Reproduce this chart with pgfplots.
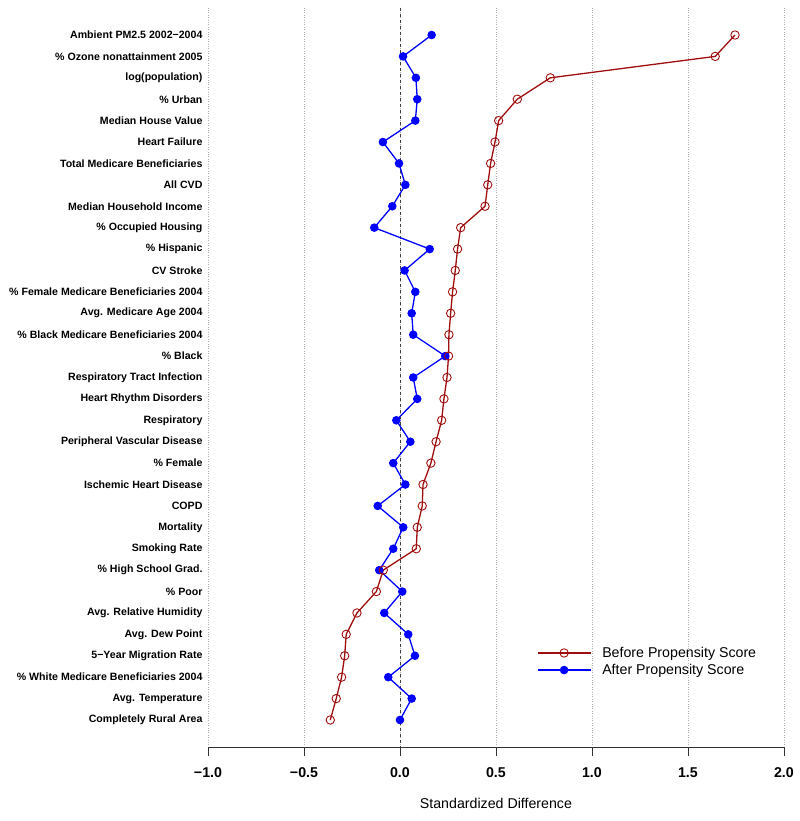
\documentclass[border=0pt]{standalone}
\usepackage{fontspec}
\setmainfont{Liberation Sans}
\usepackage{pgfplots}
\pgfplotsset{compat=1.18}
\definecolor{darkred}{RGB}{160,15,15}
\definecolor{gridgray}{RGB}{175,175,175}

\begin{document}
\begin{tikzpicture}
\begin{axis}[
  scale only axis, width=576pt, height=739.8pt,
  xmin=-1, xmax=2, ymin=-0.28, ymax=34.28, y dir=reverse,
  axis x line*=bottom, axis y line*=left,
  y axis line style={draw=none},
  x axis line style={black!80, line width=0.8pt, -},
  xtick={-1,-0.5,0,0.5,1,1.5,2},
  xticklabels={−1.0,−0.5,0.0,0.5,1.0,1.5,2.0},
  xticklabel style={font=\bfseries\fontsize{14.2}{16}\selectfont, yshift=-8pt},
  tick align=outside, major tick length=9pt,
  x tick style={black!80, line width=0.8pt},
  ytick={1,...,33}, y tick style={draw=none},
  yticklabels={Ambient PM2.5 2002−2004,\% Ozone nonattainment 2005,log(population),\% Urban,Median House Value,Heart Failure,Total Medicare Beneficiaries,All CVD,Median Household Income,\% Occupied Housing,\% Hispanic,CV Stroke,\% Female Medicare Beneficiaries 2004,Avg. Medicare Age 2004,\% Black Medicare Beneficiaries 2004,\% Black,Respiratory Tract Infection,Heart Rhythm Disorders,Respiratory,Peripheral Vascular Disease,\% Female,Ischemic Heart Disease,COPD,Mortality,Smoking Rate,\% High School Grad.,\% Poor,Avg. Relative Humidity,Avg. Dew Point,5−Year Migration Rate,\% White Medicare Beneficiaries 2004,Avg. Temperature,Completely Rural Area},
  yticklabel style={font=\bfseries\fontsize{10.6}{12}\selectfont, xshift=7pt},
  xmajorgrids, grid style={gridgray, dotted, line width=0.6pt},
  xlabel={Standardized Difference},
  xlabel style={font=\fontsize{14.2}{16}\selectfont, at={(axis description cs:0.5,-0.076)}, anchor=center},
  clip=false,
  reverse legend,
  legend style={at={(axis cs:0.7135,29.5)}, anchor=north west, inner sep=0pt, outer sep=0pt, draw=none, fill=none, row sep=1.3pt,
    font=\fontsize{14.2}{16}\selectfont, cells={anchor=west}},
  legend image code/.code={\draw[mark repeat=2,mark phase=2,#1] plot coordinates {(0pt,0pt) (26.5pt,0pt) (53pt,0pt)};},
]
\addplot[black!75, dashed, line width=0.8pt, forget plot] coordinates {(0,-0.28) (0,34.28)};
\addplot[blue, line width=1.3pt, mark=*, mark size=3.6pt] table[x=x,y=y] {
x y
0.165 1
0.016 2
0.083 3
0.090 4
0.080 5
-0.089 6
-0.005 7
0.028 8
-0.040 9
-0.134 10
0.155 11
0.024 12
0.080 13
0.061 14
0.069 15
0.236 16
0.069 17
0.090 18
-0.019 19
0.054 20
-0.035 21
0.028 22
-0.116 23
0.017 24
-0.035 25
-0.108 26
0.012 27
-0.082 28
0.043 29
0.078 30
-0.061 31
0.061 32
0.000 33
};
\addlegendentry{\hspace*{9pt}After Propensity Score}
\addplot[darkred, line width=1.3pt, mark=o, mark size=4.2pt, mark options={line width=0.9pt}] table[x=x,y=y] {
x y
1.745 1
1.642 2
0.783 3
0.611 4
0.514 5
0.495 6
0.472 7
0.457 8
0.443 9
0.316 10
0.300 11
0.288 12
0.274 13
0.264 14
0.255 15
0.253 16
0.245 17
0.229 18
0.217 19
0.188 20
0.161 21
0.120 22
0.116 23
0.090 24
0.085 25
-0.087 26
-0.123 27
-0.224 28
-0.280 29
-0.288 30
-0.304 31
-0.332 32
-0.363 33
};
\addlegendentry{\hspace*{9pt}Before Propensity Score}
\coordinate (bbtl) at (axis cs:-2.0833,-0.635);
\coordinate (bbbr) at (axis cs:2.0833,37.72);
\end{axis}
\pgfresetboundingbox
\useasboundingbox (bbtl) rectangle (bbbr);
\end{tikzpicture}
\end{document}
